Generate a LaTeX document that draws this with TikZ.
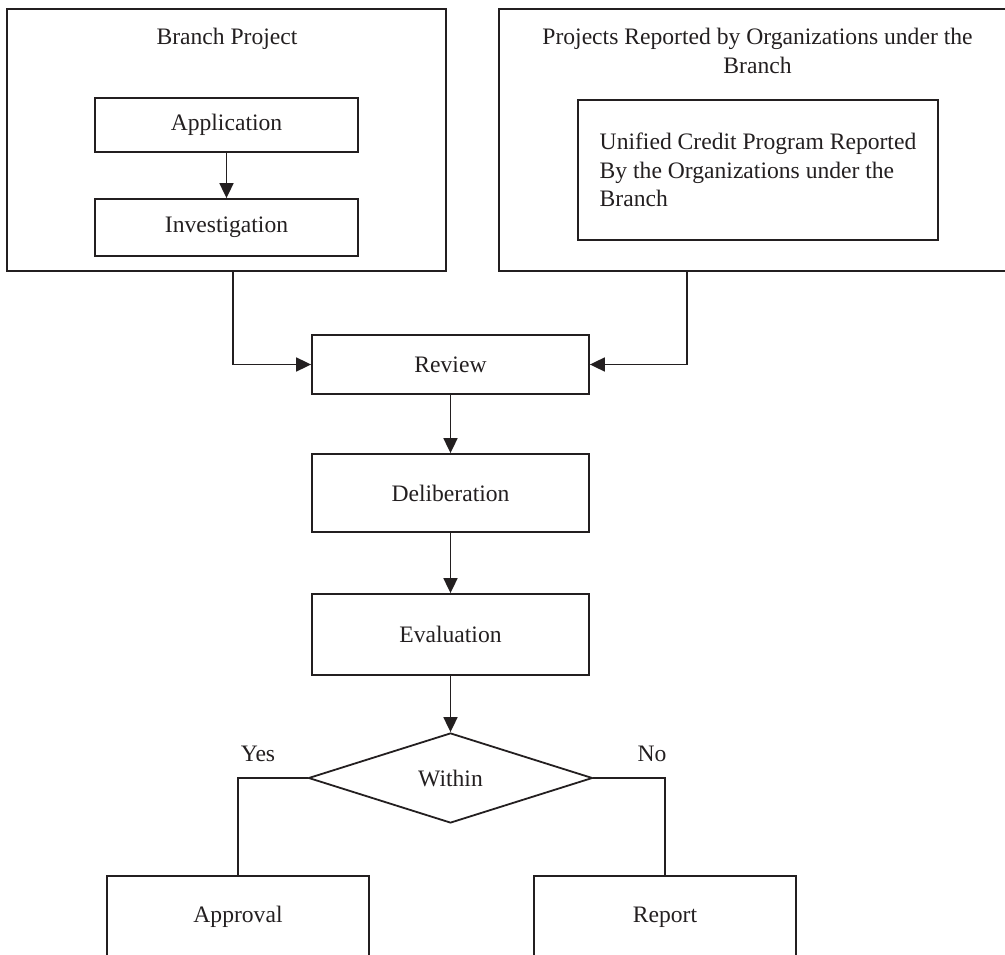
\documentclass[tikz,border=0pt]{standalone}
\usepackage{fontspec}
\setmainfont{Liberation Serif}
\usetikzlibrary{arrows.meta,shapes.geometric}
\definecolor{ink}{RGB}{35,31,32}
\begin{document}
\begin{tikzpicture}[x=1pt,y=-1pt,
  every node/.style={font=\fontsize{23.6}{28.6}\selectfont, text=ink},
  box/.style={draw=ink, line width=1.8pt, rectangle, inner sep=0pt},
  link/.style={draw=ink, line width=1.8pt},
  arr/.style={link, -{Triangle[length=15pt,width=14pt]}},
  lbl/.style={inner sep=0pt}]
\useasboundingbox (0,0) rectangle (1005,955);
\clip (0,0) rectangle (1005,955);

% branch project group
\node[box, minimum width=439pt, minimum height=262pt] (branch) at (226.5,140) {};
\node[lbl] (branchT) at (227,39) {Branch Project};
\node[box, minimum width=263pt, minimum height=54pt] (app) at (226.5,125) {Application};
\node[box, minimum width=263pt, minimum height=57pt] (inv) at (226.5,227.5) {Investigation};

% projects reported by organizations
\node[box, minimum width=516pt, minimum height=262pt] (orgs) at (757,140) {};
\node[lbl, align=center] (orgsT) at (757.5,51) {Projects Reported by Organizations under the\\Branch};
\node[box, minimum width=360pt, minimum height=140pt, align=left] (ucp) at (758,170)
  {Unified Credit Program Reported\\By the Organizations under the\\Branch};

% main flow
\node[box, minimum width=277pt, minimum height=59pt] (review) at (450.5,364.5) {Review};
\node[box, minimum width=277pt, minimum height=78pt] (delib) at (450.5,493) {Deliberation};
\node[box, minimum width=277pt, minimum height=81pt] (eval) at (450.5,634.5) {Evaluation};
\node[diamond, draw=ink, line width=1.8pt, inner sep=0pt, minimum width=284pt, minimum height=90pt] (within) at (450.5,778) {Within};
\node[box, minimum width=262pt, minimum height=82pt] (approval) at (238,917) {Approval};
\node[box, minimum width=262pt, minimum height=82pt] (report) at (665,917) {Report};
\node[lbl] (yes) at (258,754) {Yes};
\node[lbl] (no) at (652,754) {No};

% connectors
\draw[arr] (app) -- (inv);
\draw[arr] ([xshift=6.5pt]branch.south) |- (review.west);
\draw[arr] ([xshift=-70pt]orgs.south) |- (review.east);
\draw[arr] (review) -- (delib);
\draw[arr] (delib) -- (eval);
\draw[arr] (eval.south) -- (within.north);
\draw[link] (within.west) -| (approval.north);
\draw[link] (within.east) -| (report.north);
\end{tikzpicture}
\end{document}
